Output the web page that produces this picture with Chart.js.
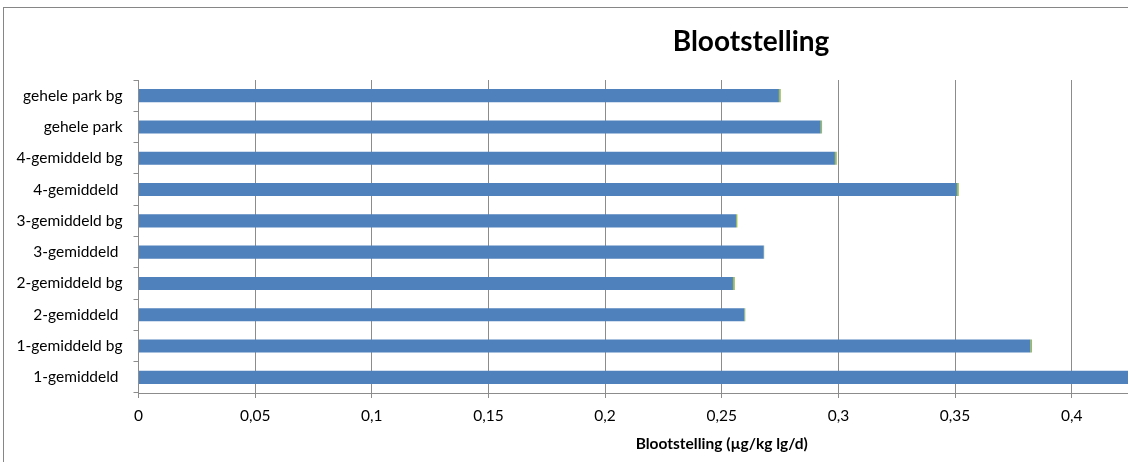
<!DOCTYPE html>
<html><head><meta charset="utf-8">
<script src="https://cdn.jsdelivr.net/npm/chart.js@4.4.1/dist/chart.umd.min.js"></script>
<style>
html,body{margin:0;padding:0;background:#fff;overflow:hidden;width:1128px;height:462px;}
#box{position:absolute;left:3px;top:7px;width:1494px;height:480px;border-left:1px solid #868686;border-top:1px solid #868686;}
canvas{display:block;}
</style></head><body>
<div id="box"><canvas id="c" width="1494" height="480"></canvas></div>
<script>
const categories = ['1-gemiddeld ', '1-gemiddeld bg', '2-gemiddeld ', '2-gemiddeld bg', '3-gemiddeld ', '3-gemiddeld bg', '4-gemiddeld ', '4-gemiddeld bg', 'gehele park', 'gehele park bg'];
const mainValues = [0.46, 0.3823, 0.2597, 0.2548, 0.2680, 0.2561, 0.3508, 0.2985, 0.2924, 0.2745];
const extraValues = [0.0007, 0.0007, 0.0004, 0.0008, 0.0002, 0.0006, 0.0008, 0.0008, 0.0006, 0.0008];
const xTicks = [0, 0.05, 0.1, 0.15, 0.2, 0.25, 0.3, 0.35, 0.4, 0.45, 0.5];
const chartTitle = 'Blootstelling';
const xTitle = 'Blootstelling (µg/kg lg/d)';

const FONT = 'Lato, "Liberation Sans", sans-serif';

// Title centred on the whole chart box (the box extends past the visible window)
const boxTitle = {
  id: 'boxTitle',
  afterDraw(chart) {
    const ctx = chart.ctx;
    ctx.save();
    ctx.fillStyle = '#000';
    ctx.font = 'bold 28px ' + FONT;
    ctx.textAlign = 'center';
    ctx.textBaseline = 'alphabetic';
    ctx.fillText(chartTitle, chart.width / 2, 43);
    ctx.restore();
  }
};

new Chart(document.getElementById('c'), {
  type: 'bar',
  data: {
    labels: categories,
    datasets: [
      { label: 'Blootstelling', data: mainValues, backgroundColor: '#4F81BD', borderWidth: 0 },
      { label: 'extra', data: extraValues, backgroundColor: '#9BBB59', borderWidth: 0 }
    ]
  },
  plugins: [boxTitle],
  options: {
    indexAxis: 'y',
    responsive: false,
    devicePixelRatio: 1,
    animation: false,
    datasets: { bar: { barPercentage: 0.42, categoryPercentage: 1 } },
    layout: { padding: { top: 72, right: 193, left: 0, bottom: 27.2 } },
    plugins: {
      legend: { display: false },
      tooltip: { enabled: false },
      title: { display: false }
    },
    scales: {
      x: {
        stacked: true, min: 0, max: 0.5,
        afterBuildTicks: s => { s.ticks = xTicks.map(v => ({ value: v })); },
        grid: { color: '#8c8c8c', tickLength: 5 },
        border: { color: '#8c8c8c' },
        ticks: {
          color: '#000', font: { family: FONT, size: 15.5 }, padding: 8.7,
          callback: v => String(+(+v).toFixed(2)).replace('.', ',')
        },
        title: { display: true, text: xTitle, color: '#000', font: { family: FONT, size: 15.5, weight: 'bold' }, padding: { top: 0.2, bottom: 8 } }
      },
      y: {
        stacked: true, reverse: true,
        afterFit: s => { s.width = 134.5; },
        grid: { drawOnChartArea: false, tickLength: 5, color: '#8c8c8c' },
        border: { color: '#8c8c8c' },
        ticks: { color: '#000', font: { family: FONT, size: 15.5 }, padding: 11, autoSkip: false }
      }
    }
  }
});
</script>
</body></html>
